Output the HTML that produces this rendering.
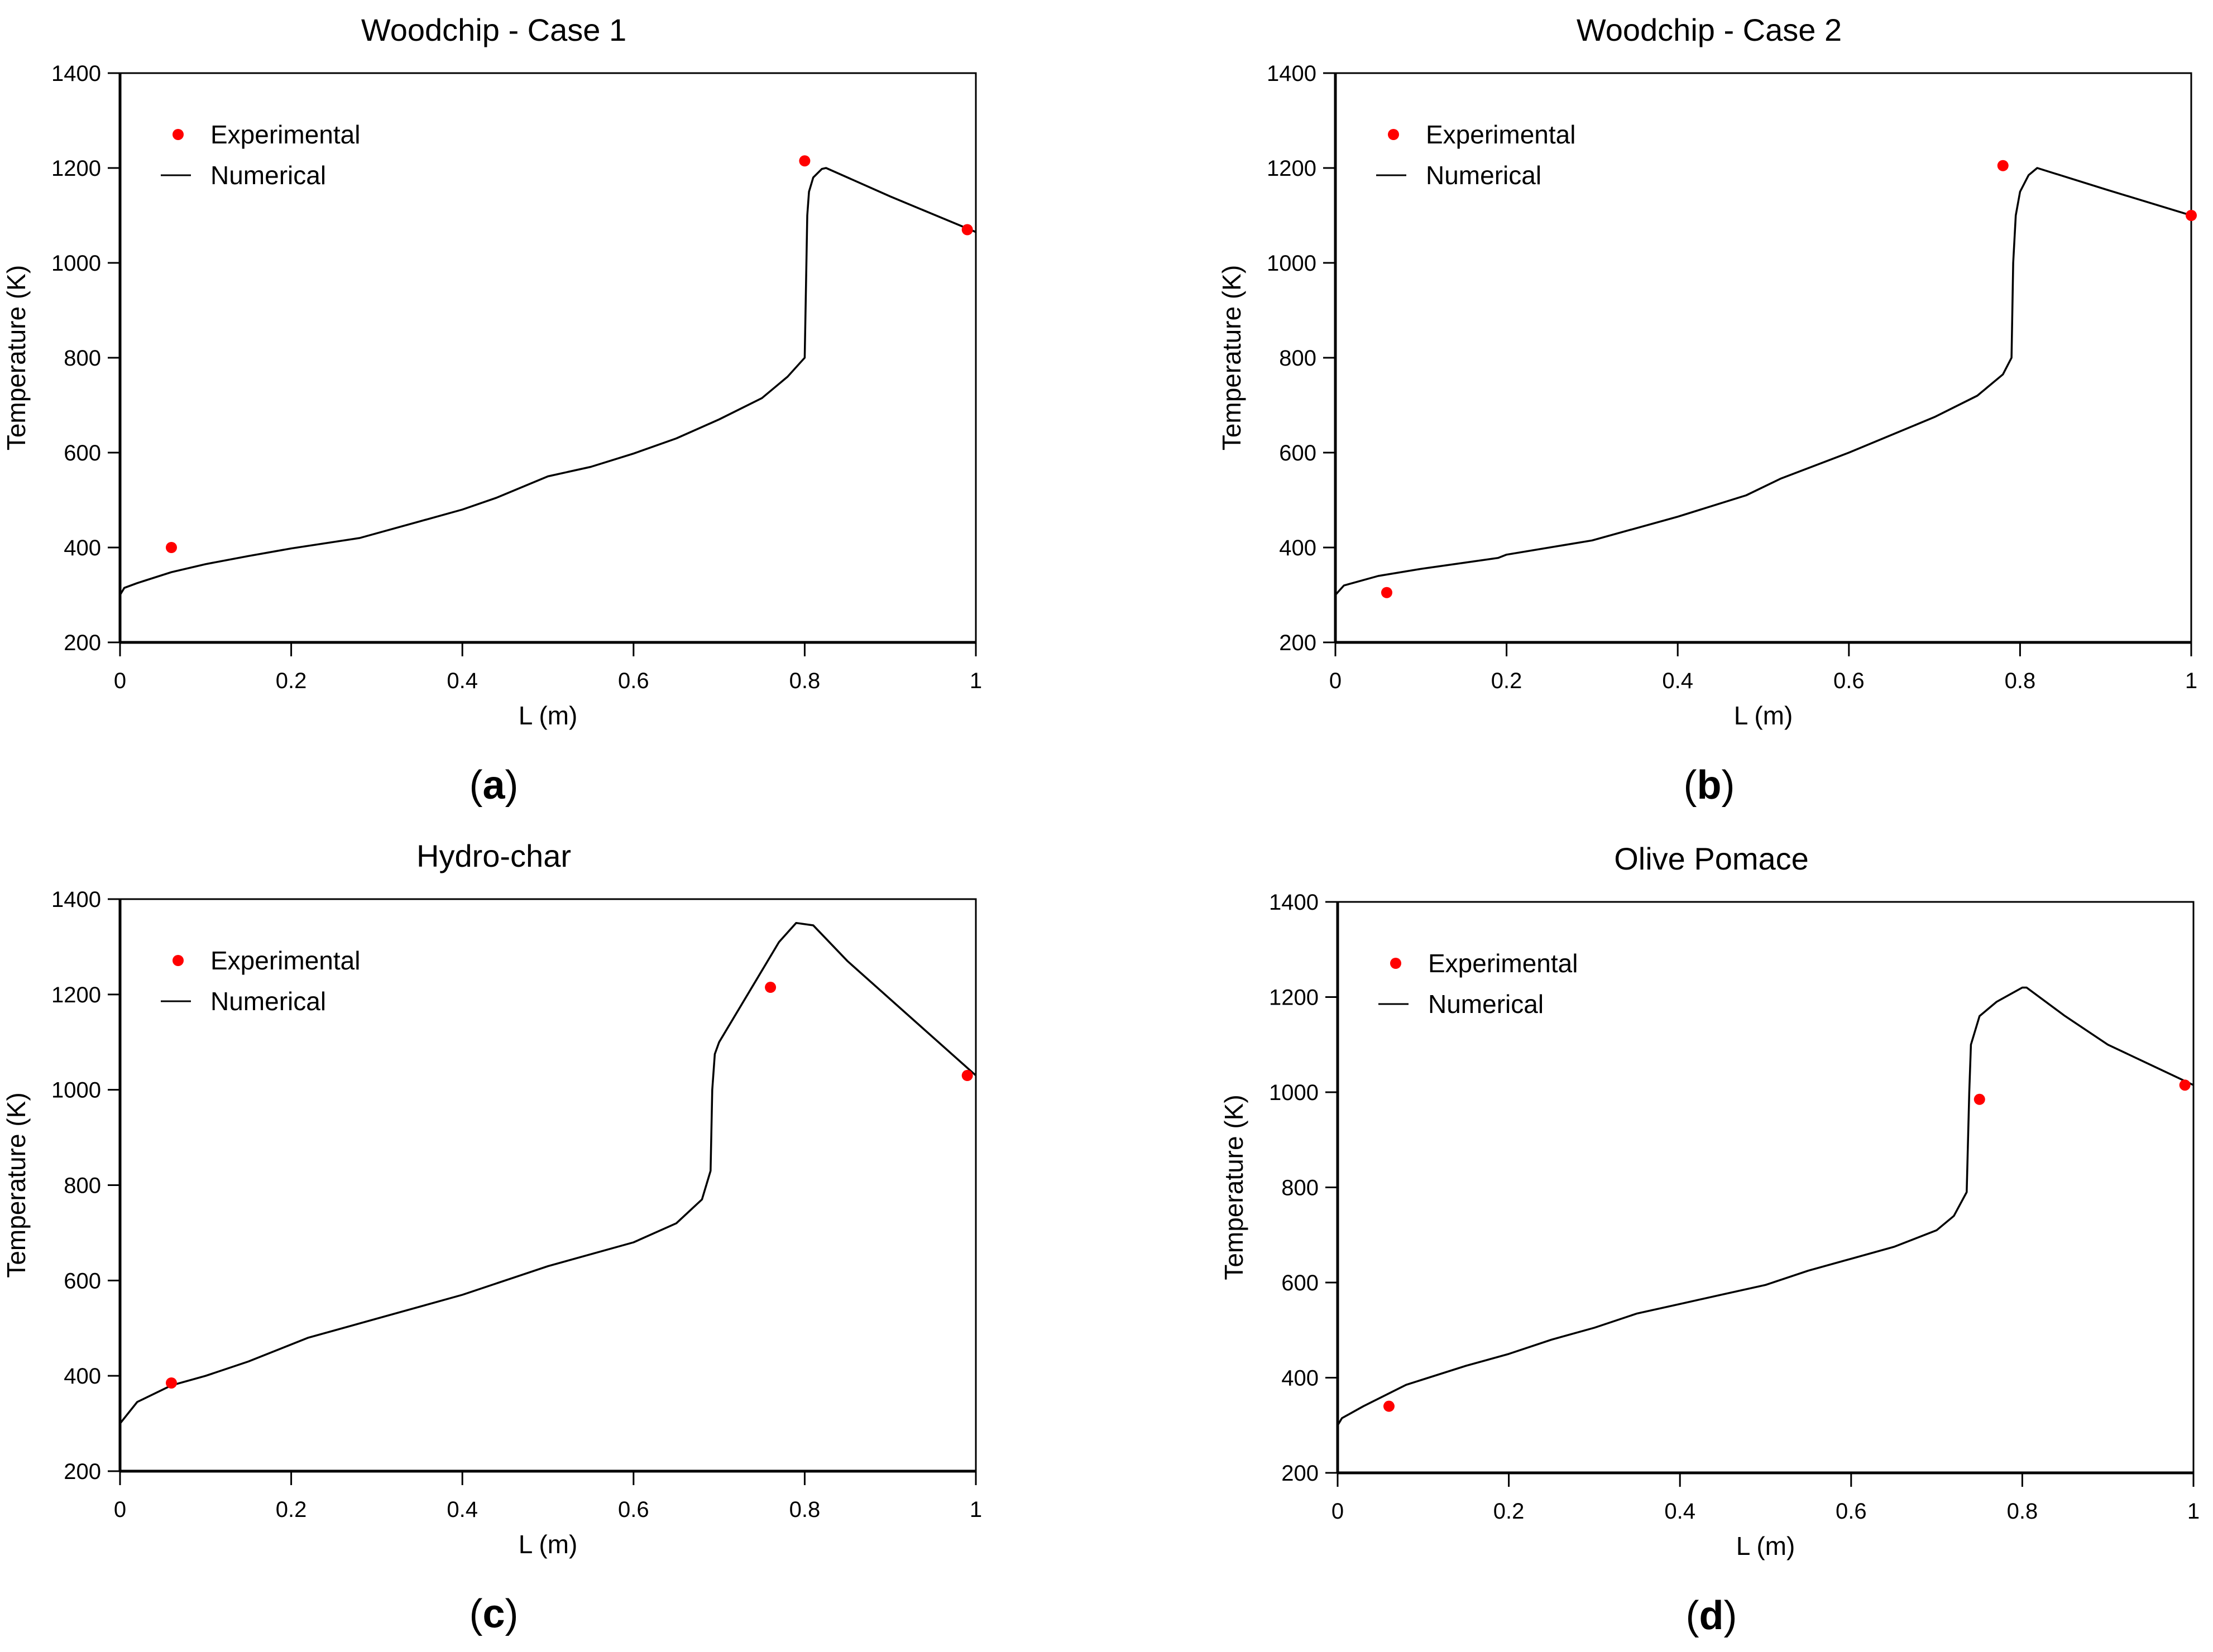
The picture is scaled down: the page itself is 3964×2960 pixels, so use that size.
<!DOCTYPE html>
<html><head><meta charset="utf-8"><style>
html,body{margin:0;padding:0;background:#fff}
svg{display:block}
text{font-family:"Liberation Sans",sans-serif;fill:#000}
</style></head>
<body>
<svg id="fig" width="3964" height="2960" viewBox="0 0 3964 2960" xmlns="http://www.w3.org/2000/svg"></svg>
<script>
const xTicks=[0,0.2,0.4,0.6,0.8,1];
const xTickLabels=["0","0.2","0.4","0.6","0.8","1"];
const yTicks=[200,400,600,800,1000,1200,1400];
const titles=["Woodchip - Case 1","Woodchip - Case 2","Hydro-char","Olive Pomace"];
const panelLetters=["a","b","c","d"];
const numXA=[0,0.005,0.02,0.06,0.1,0.15,0.2,0.28,0.35,0.4,0.44,0.48,0.5,0.55,0.6,0.65,0.7,0.75,0.78,0.795,0.8,0.803,0.805,0.81,0.82,0.825,0.9,1.0];
const numYA=[300,315,325,348,365,382,398,420,455,480,505,535,550,570,598,630,670,715,760,790,800,1100,1150,1180,1198,1200,1140,1065];
const numXB=[0,0.01,0.05,0.1,0.19,0.2,0.3,0.4,0.48,0.52,0.6,0.7,0.75,0.78,0.79,0.792,0.795,0.8,0.81,0.82,0.9,1.0];
const numYB=[300,320,340,355,378,385,415,465,510,545,600,675,720,765,800,1000,1100,1150,1185,1200,1155,1100];
const numXC=[0,0.02,0.06,0.1,0.15,0.22,0.3,0.4,0.5,0.6,0.65,0.68,0.69,0.692,0.695,0.7,0.74,0.77,0.79,0.81,0.85,0.9,0.95,1.0];
const numYC=[300,345,380,400,430,480,520,570,630,680,720,770,830,1000,1075,1100,1220,1310,1350,1345,1270,1190,1110,1030];
const numXD=[0,0.005,0.03,0.08,0.15,0.2,0.25,0.3,0.35,0.4,0.45,0.5,0.55,0.6,0.65,0.7,0.72,0.735,0.738,0.74,0.75,0.77,0.8,0.805,0.85,0.9,1.0];
const numYD=[300,315,340,385,425,450,480,505,535,555,575,595,625,650,675,710,740,790,1000,1100,1160,1190,1220,1220,1160,1100,1015];
const expXA=[0.06,0.8,0.99], expYA=[400,1215,1070];
const expXB=[0.06,0.78,1.0], expYB=[305,1205,1100];
const expXC=[0.06,0.76,0.99], expYC=[385,1215,1030];
const expXD=[0.06,0.75,0.99], expYD=[340,985,1015];

const numX=[numXA,numXB,numXC,numXD], numY=[numYA,numYB,numYC,numYD];
const expX=[expXA,expXB,expXC,expXD], expY=[expYA,expYB,expYC,expYD];
const boxes=[{x0:215,x1:1748,yt:131,yb:1151},{x0:2392,x1:3925,yt:131,yb:1151},{x0:215,x1:1748,yt:1611,yb:2636},{x0:2396,x1:3929,yt:1616,yb:2639}];
const NS="http://www.w3.org/2000/svg";
const svg=document.getElementById('fig');
function mk(tag,attrs,parent){const e=document.createElementNS(NS,tag);for(const k in attrs)e.setAttribute(k,attrs[k]);parent.appendChild(e);return e;}
boxes.forEach((b,i)=>{
  const g=mk('g',{},svg);
  
  
  const sx=v=>b.x0+(v-0)/(1-0)*(b.x1-b.x0);
  const sy=v=>b.yb-(v-200)/(1400-200)*(b.yb-b.yt);
  const cx=(b.x0+b.x1)/2;
  const tcx=cx-97;
  const t=mk('text',{x:tcx,y:b.yt-58,'font-size':56,'text-anchor':'middle'},g);t.textContent=titles[i];
  
  
  const fr=mk('rect',{x:b.x0,y:b.yt,width:b.x1-b.x0,height:b.yb-b.yt,fill:'none',stroke:'#000','stroke-width':3},g);
  
  
  const ax=mk('g',{},g);
  
  
  mk('line',{x1:b.x0,y1:b.yb,x2:b.x1,y2:b.yb,stroke:'#000','stroke-width':5},ax);
  xTicks.forEach((v,j)=>{
    mk('line',{x1:sx(v),y1:b.yb,x2:sx(v),y2:b.yb+25,stroke:'#000','stroke-width':3},ax);
    const tl=mk('text',{x:sx(v),y:b.yb+82,'font-size':40,'text-anchor':'middle'},ax);tl.textContent=xTickLabels[j];
    
    
  });
  const xl=mk('text',{x:cx,y:b.yb+147,'font-size':46,'text-anchor':'middle'},ax);xl.textContent='L (m)';
  
  
  const ay=mk('g',{},g);
  
  
  mk('line',{x1:b.x0,y1:b.yt,x2:b.x0,y2:b.yb,stroke:'#000','stroke-width':5},ay);
  yTicks.forEach(v=>{
    mk('line',{x1:b.x0-22,y1:sy(v),x2:b.x0,y2:sy(v),stroke:'#000','stroke-width':3},ay);
    const tl=mk('text',{x:b.x0-34,y:sy(v)+14,'font-size':40,'text-anchor':'end'},ay);tl.textContent=String(v);
    
    
  });
  const yx=b.x0-170,yy=(b.yt+b.yb)/2;
  const yl=mk('text',{x:yx,y:yy,'font-size':46,'text-anchor':'middle',transform:`rotate(-90 ${yx} ${yy})`},ay);yl.textContent='Temperature (K)';
  
  
  const pts=numX[i].map((v,k)=>sx(v).toFixed(1)+','+sy(numY[i][k]).toFixed(1)).join(' ');
  const pl=mk('polyline',{points:pts,fill:'none',stroke:'#000','stroke-width':3.5,'stroke-linejoin':'round'},g);
  
  
  expX[i].forEach((v,k)=>{
    const c=mk('circle',{cx:sx(v),cy:sy(expY[i][k]),r:10,fill:'#ff0000'},g);
    
    
  });
  const lg=mk('g',{},g);
  
  
  const lx=b.x0, ly=b.yt;
  mk('circle',{cx:lx+104,cy:ly+110,r:10,fill:'#ff0000'},lg);
  const e1=mk('text',{x:lx+162,y:ly+126,'font-size':46},lg);e1.textContent='Experimental';
  
  
  mk('line',{x1:lx+73,y1:ly+183,x2:lx+127,y2:ly+183,stroke:'#000','stroke-width':3},lg);
  const e2=mk('text',{x:lx+162,y:ly+199,'font-size':46},lg);e2.textContent='Numerical';
  
  
  const pL=mk('text',{x:tcx,y:b.yb+280,'font-size':72,'text-anchor':'middle','font-family':'Liberation Serif, serif'},g);
  pL.innerHTML='(<tspan font-weight="bold">'+panelLetters[i]+'</tspan>)';
  
  
});
</script>
</body></html>
